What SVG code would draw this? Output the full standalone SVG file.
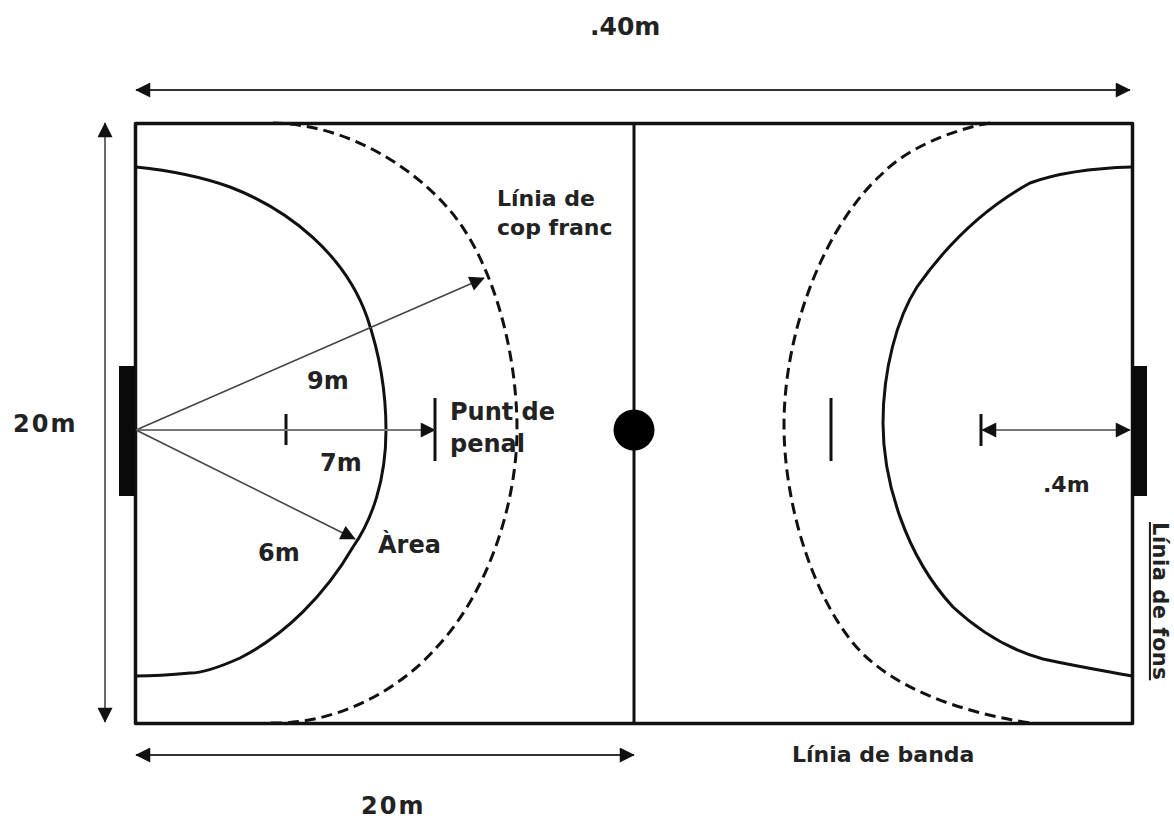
<svg xmlns="http://www.w3.org/2000/svg" width="1174" height="820" viewBox="0 0 1174 820">
<style>
.t{font-family:"DejaVu Sans",sans-serif;font-weight:bold;font-size:22px;fill:#222}
.l{font-size:24px}
.n{font-size:24px;letter-spacing:2px}
.c{fill:none;stroke:#111;stroke-width:3;stroke-linejoin:round}
.d{fill:none;stroke:#111;stroke-width:3;stroke-dasharray:11 6}
.a{fill:none;stroke:#444;stroke-width:1.6}
.g{fill:none;stroke:#777;stroke-width:2.200}
.b{fill:none;stroke:#333;stroke-width:2}
</style>
<defs>
<marker id="h" viewBox="0 0 10 10" refX="9.500" refY="5" markerWidth="16" markerHeight="15" markerUnits="userSpaceOnUse" orient="auto-start-reverse"><path d="M0 0L10 5L0 10Z" fill="#111"/></marker>
</defs>
<rect width="1174" height="820" fill="#fff"/>
<g id="court">
<rect x="135.500" y="123.500" width="997" height="600" class="c" style="stroke-width:3.500"/>
<path d="M634 123V723" class="c"/>
<circle cx="634" cy="430" r="20.500" fill="#000"/>
<rect x="119" y="366" width="16" height="130" fill="#0a0a0a"/>
<rect x="1132" y="366" width="15" height="130" fill="#0a0a0a"/>
</g>
<g id="left-area">
<path d="M136 167C175 171 205 178 230 187C290 210 345 255 367 317C380 355 386 395 386 430C386 480 372 520 353 547C325 595 285 635 240 658C220 667 200 673 190 673C170 675 150 676 136 676" class="c"/>
<path d="M273 123C340 124 405 160 447 207C490 255 517 345 517 430C517 500 490 590 437 647C395 695 330 725 270 723" class="d"/>
<path d="M286 414V445M435 398V461" class="c"/>
</g>
<g id="right-area">
<path d="M1132 167C1095 168 1060 172 1030 183C990 205 950 240 917 287C897 318 883 370 883 423C883 480 905 555 953 607C980 632 1010 650 1043 659C1080 667 1105 671 1132 676" class="c"/>
<path d="M990 123C950 130 905 150 883 173C825 225 784 330 784 425C784 500 810 590 853 643C890 688 960 712 1030 723" class="d"/>
<path d="M831 398V461M981 414V446" class="c"/>
</g>
<g id="connectors">
<path d="M136 90H1130" class="b" marker-start="url(#h)" marker-end="url(#h)"/>
<path d="M105 123V722" class="a" marker-start="url(#h)" marker-end="url(#h)"/>
<path d="M136 755H634" class="b" marker-start="url(#h)" marker-end="url(#h)"/>
<path d="M136 430L484 278" class="a" marker-end="url(#h)"/>
<path d="M136 430H435" class="g" marker-end="url(#h)"/>
<path d="M136 430L355 539" class="a" marker-end="url(#h)"/>
<path d="M982 430H1130" class="g" marker-start="url(#h)" marker-end="url(#h)"/>
</g>
<g id="labels">
<text class="t" x="590" y="35" style="font-size:25px">.40m</text>
<text class="t n" x="13" y="432">20m</text>
<text class="t n" x="361" y="814">20m</text>
<text class="t" x="497" y="206">Línia de</text>
<text class="t" x="497" y="235">cop franc</text>
<text class="t l" x="450" y="420">Punt de</text>
<text class="t l" x="450" y="452">penal</text>
<text class="t l" x="307" y="389">9m</text>
<text class="t l" x="320" y="471">7m</text>
<text class="t l" x="258" y="561">6m</text>
<text class="t l" x="378" y="553">Àrea</text>
<text class="t" x="1043" y="492">.4m</text>
<text class="t" x="792" y="762">Línia de banda</text>
<text class="t" transform="translate(1153 522) rotate(90)" style="font-size:21px;letter-spacing:.5px;text-decoration:underline">Línia de fons</text>
</g>
</svg>
